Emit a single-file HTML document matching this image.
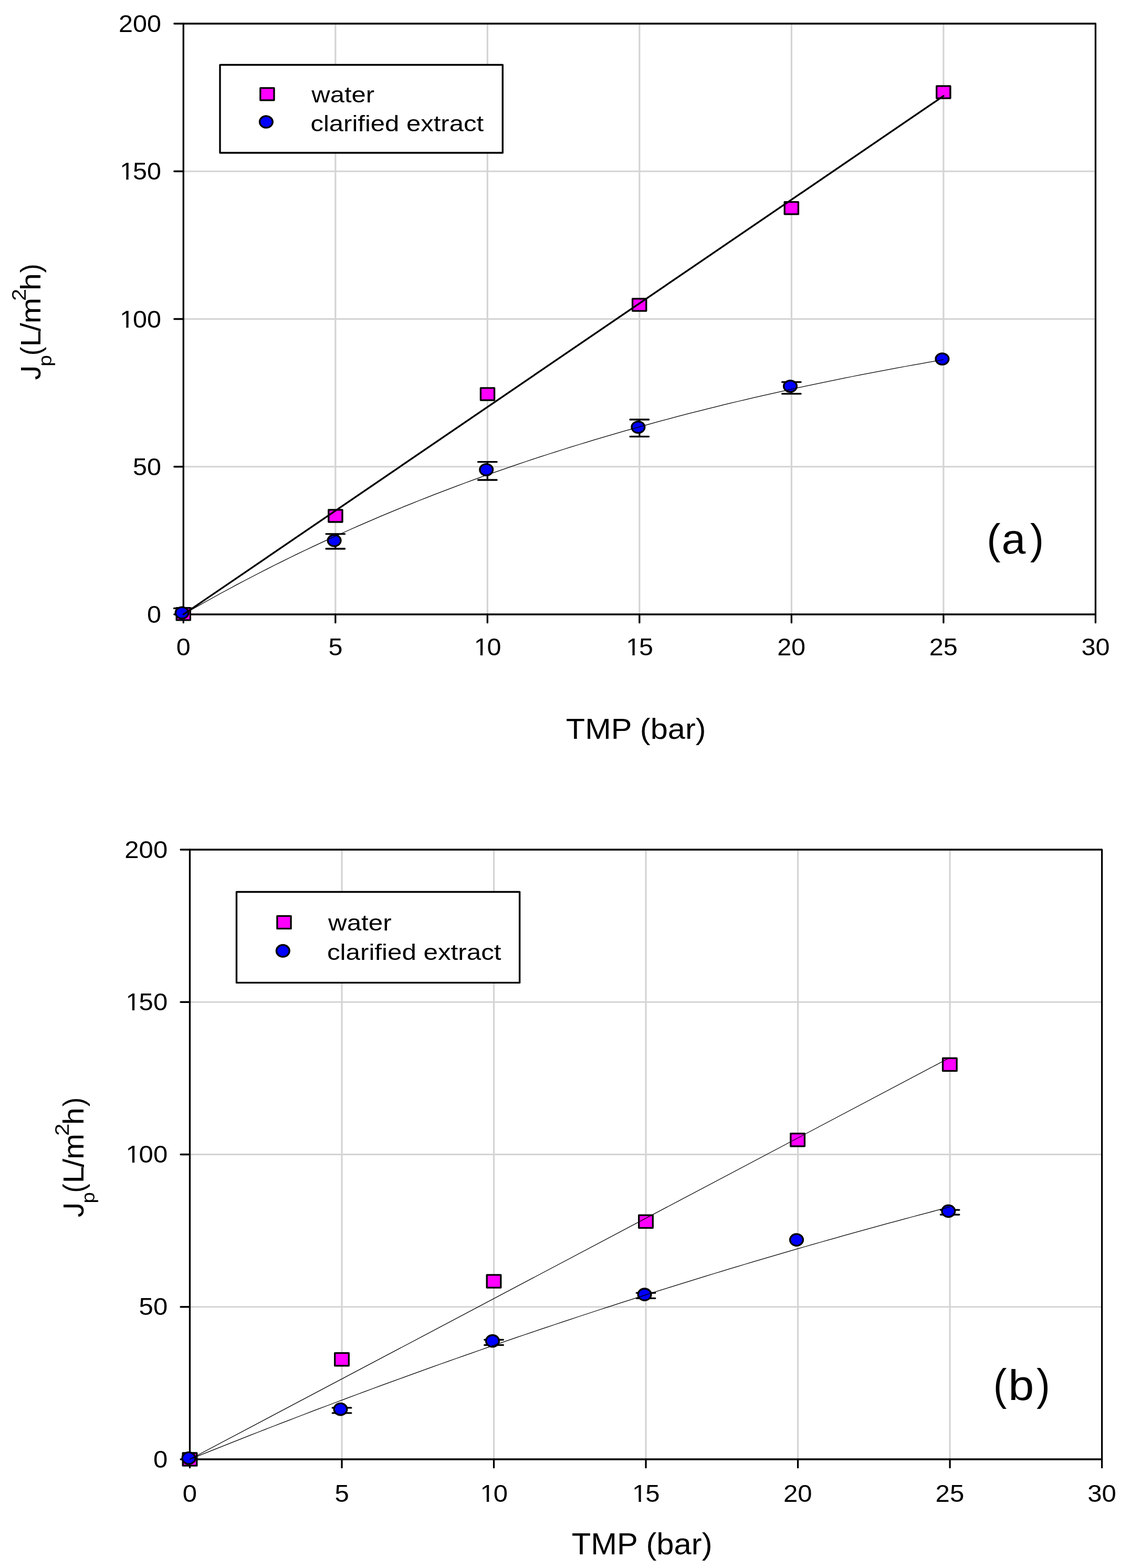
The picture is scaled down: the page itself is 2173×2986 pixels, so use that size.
<!DOCTYPE html>
<html><head><meta charset="utf-8"><title>Permeate flux vs TMP</title>
<style>
html,body{margin:0;padding:0;background:#fff;overflow:hidden;width:2173px;height:2986px;}
svg{display:block;}
text{font-family:"Liberation Sans", Arial, Helvetica, sans-serif;fill:#000;}
</style></head>
<body>
<svg width="2173" height="2986" viewBox="0 0 2173 2986">
<rect width="2173" height="2986" fill="#fff"/>
<line x1="638.82" y1="45.00" x2="638.82" y2="1170.00" stroke="#d4d4d4" stroke-width="3.2"/>
<line x1="928.33" y1="45.00" x2="928.33" y2="1170.00" stroke="#d4d4d4" stroke-width="3.2"/>
<line x1="1217.85" y1="45.00" x2="1217.85" y2="1170.00" stroke="#d4d4d4" stroke-width="3.2"/>
<line x1="1507.37" y1="45.00" x2="1507.37" y2="1170.00" stroke="#d4d4d4" stroke-width="3.2"/>
<line x1="1796.88" y1="45.00" x2="1796.88" y2="1170.00" stroke="#d4d4d4" stroke-width="3.2"/>
<line x1="349.30" y1="888.75" x2="2086.40" y2="888.75" stroke="#d4d4d4" stroke-width="3.2"/>
<line x1="349.30" y1="607.50" x2="2086.40" y2="607.50" stroke="#d4d4d4" stroke-width="3.2"/>
<line x1="349.30" y1="326.25" x2="2086.40" y2="326.25" stroke="#d4d4d4" stroke-width="3.2"/>
<rect x="349.30" y="45.00" width="1737.10" height="1125.00" fill="none" stroke="#000" stroke-width="3.3" stroke-linejoin="round"/>
<line x1="331.90" y1="1170.00" x2="349.30" y2="1170.00" stroke="#000" stroke-width="3.3" stroke-linecap="round"/>
<line x1="331.90" y1="888.75" x2="349.30" y2="888.75" stroke="#000" stroke-width="3.3" stroke-linecap="round"/>
<line x1="331.90" y1="607.50" x2="349.30" y2="607.50" stroke="#000" stroke-width="3.3" stroke-linecap="round"/>
<line x1="331.90" y1="326.25" x2="349.30" y2="326.25" stroke="#000" stroke-width="3.3" stroke-linecap="round"/>
<line x1="331.90" y1="45.00" x2="349.30" y2="45.00" stroke="#000" stroke-width="3.3" stroke-linecap="round"/>
<line x1="349.30" y1="1170.00" x2="349.30" y2="1185.70" stroke="#000" stroke-width="3.3" stroke-linecap="round"/>
<line x1="638.82" y1="1170.00" x2="638.82" y2="1185.70" stroke="#000" stroke-width="3.3" stroke-linecap="round"/>
<line x1="928.33" y1="1170.00" x2="928.33" y2="1185.70" stroke="#000" stroke-width="3.3" stroke-linecap="round"/>
<line x1="1217.85" y1="1170.00" x2="1217.85" y2="1185.70" stroke="#000" stroke-width="3.3" stroke-linecap="round"/>
<line x1="1507.37" y1="1170.00" x2="1507.37" y2="1185.70" stroke="#000" stroke-width="3.3" stroke-linecap="round"/>
<line x1="1796.88" y1="1170.00" x2="1796.88" y2="1185.70" stroke="#000" stroke-width="3.3" stroke-linecap="round"/>
<line x1="2086.40" y1="1170.00" x2="2086.40" y2="1185.70" stroke="#000" stroke-width="3.3" stroke-linecap="round"/>
<g transform="translate(279.92,1186.22) scale(1.0500,1)"><text font-size="46.20">0</text></g>
<g transform="translate(252.95,904.97) scale(1.0500,1)"><text font-size="46.20">50</text></g>
<g transform="translate(225.98,623.72) scale(1.0500,1)"><text font-size="46.20"><tspan dx="2.08">1</tspan><tspan dx="-2.08">0</tspan>0</text><rect x="4.36" y="-4.75" width="9.34" height="6.05" fill="#fff"/><rect x="17.78" y="-4.75" width="8.98" height="6.05" fill="#fff"/></g>
<g transform="translate(225.98,342.47) scale(1.0500,1)"><text font-size="46.20"><tspan dx="2.08">1</tspan><tspan dx="-2.08">5</tspan>0</text><rect x="4.36" y="-4.75" width="9.34" height="6.05" fill="#fff"/><rect x="17.78" y="-4.75" width="8.98" height="6.05" fill="#fff"/></g>
<g transform="translate(225.98,61.22) scale(1.0500,1)"><text font-size="46.20">200</text></g>
<g transform="translate(335.81,1248.20) scale(1.0500,1)"><text font-size="46.20">0</text></g>
<g transform="translate(625.38,1248.20) scale(1.0500,1)"><text font-size="46.20">5</text></g>
<g transform="translate(900.46,1248.20) scale(1.0500,1)"><text font-size="46.20"><tspan dx="2.08">1</tspan><tspan dx="-2.08">0</tspan></text><rect x="4.36" y="-4.75" width="9.34" height="6.05" fill="#fff"/><rect x="17.78" y="-4.75" width="8.98" height="6.05" fill="#fff"/></g>
<g transform="translate(1190.05,1248.20) scale(1.0500,1)"><text font-size="46.20"><tspan dx="2.08">1</tspan><tspan dx="-2.08">5</tspan></text><rect x="4.36" y="-4.75" width="9.34" height="6.05" fill="#fff"/><rect x="17.78" y="-4.75" width="8.98" height="6.05" fill="#fff"/></g>
<g transform="translate(1480.13,1248.20) scale(1.0500,1)"><text font-size="46.20">20</text></g>
<g transform="translate(1769.72,1248.20) scale(1.0500,1)"><text font-size="46.20">25</text></g>
<g transform="translate(2059.45,1248.20) scale(1.0500,1)"><text font-size="46.20">30</text></g>
<g transform="translate(1077.79,1407.00) scale(1.0726,1)"><text font-size="55.50">TMP (bar)</text></g>
<g transform="translate(77.00,722.70) rotate(-90) scale(1.0303,1)"><text x="-0.86" y="0" font-size="53.50">J</text><rect x="8.62" y="-38.11" width="8.34" height="6.68" fill="#fff"/></g>
<g transform="translate(97.70,695.20) rotate(-90) scale(1.1265,1)"><text x="-2.25" y="0" font-size="34.60">p</text></g>
<g transform="translate(77.00,674.00) rotate(-90) scale(0.9311,1)"><text x="-3.32" y="0" font-size="53.50">(</text></g>
<g transform="translate(77.00,655.60) rotate(-90) scale(1.0596,1)"><text x="-4.39" y="0" font-size="53.50">L</text></g>
<g transform="translate(77.00,631.00) rotate(-90) scale(1.0758,1)"><text x="0.00" y="0" font-size="53.50">/</text></g>
<g transform="translate(77.00,612.00) rotate(-90) scale(1.1012,1)"><text x="-3.53" y="0" font-size="53.50">m</text></g>
<g transform="translate(49.00,571.00) rotate(-90) scale(1.1202,1)"><text x="-1.85" y="0" font-size="37.00">2</text></g>
<g transform="translate(77.00,548.90) rotate(-90) scale(1.1029,1)"><text x="-3.69" y="0" font-size="53.50">h</text></g>
<g transform="translate(77.00,519.10) rotate(-90) scale(0.9734,1)"><text x="-0.32" y="0" font-size="53.50">)</text></g>
<rect x="419.00" y="123.45" width="538.30" height="167.55" fill="#fff" stroke="#000" stroke-width="3.4" stroke-linejoin="round"/>
<rect x="495.80" y="167.65" width="26.20" height="23.20" fill="#ff00ff" stroke="#000" stroke-width="3.3" stroke-linejoin="round"/>
<ellipse cx="506.90" cy="232.10" rx="12.40" ry="11.10" fill="#0000ff" stroke="#000" stroke-width="3.3"/>
<g transform="translate(591.44,249.77) scale(1.1367,1)"><text font-size="43.13">clarified extract</text></g>
<text transform="translate(593.35,194.90) scale(1.1367,1)" font-size="43.13">water</text>
<path d="M349.30,1158.40L349.30,1170.00M331.50,1158.40L367.10,1158.40" stroke="#000" stroke-width="3.3" stroke-linecap="round" fill="none"/>
<path d="M638.82,1016.80L638.82,1045.00M621.02,1016.80L656.62,1016.80M621.02,1045.00L656.62,1045.00" stroke="#000" stroke-width="3.3" stroke-linecap="round" fill="none"/>
<path d="M928.33,879.70L928.33,914.00M910.53,879.70L946.13,879.70M910.53,914.00L946.13,914.00" stroke="#000" stroke-width="3.3" stroke-linecap="round" fill="none"/>
<path d="M1217.85,799.00L1217.85,831.30M1200.05,799.00L1235.65,799.00M1200.05,831.30L1235.65,831.30" stroke="#000" stroke-width="3.3" stroke-linecap="round" fill="none"/>
<path d="M1507.37,727.60L1507.37,749.80M1489.57,727.60L1525.17,727.60M1489.57,749.80L1525.17,749.80" stroke="#000" stroke-width="3.3" stroke-linecap="round" fill="none"/>
<rect x="336.20" y="1157.70" width="26.20" height="23.20" fill="#ff00ff" stroke="#000" stroke-width="3.3" stroke-linejoin="round"/>
<rect x="625.80" y="970.80" width="26.20" height="23.20" fill="#ff00ff" stroke="#000" stroke-width="3.3" stroke-linejoin="round"/>
<rect x="915.40" y="738.90" width="26.20" height="23.20" fill="#ff00ff" stroke="#000" stroke-width="3.3" stroke-linejoin="round"/>
<rect x="1204.60" y="568.90" width="26.20" height="23.20" fill="#ff00ff" stroke="#000" stroke-width="3.3" stroke-linejoin="round"/>
<rect x="1494.20" y="384.70" width="26.20" height="23.20" fill="#ff00ff" stroke="#000" stroke-width="3.3" stroke-linejoin="round"/>
<rect x="1783.70" y="163.90" width="26.20" height="23.20" fill="#ff00ff" stroke="#000" stroke-width="3.3" stroke-linejoin="round"/>
<ellipse cx="346.60" cy="1167.00" rx="12.40" ry="10.80" fill="#0000ff" stroke="#000" stroke-width="3.3"/>
<ellipse cx="636.60" cy="1029.30" rx="12.40" ry="10.80" fill="#0000ff" stroke="#000" stroke-width="3.3"/>
<ellipse cx="926.20" cy="894.50" rx="12.40" ry="10.80" fill="#0000ff" stroke="#000" stroke-width="3.3"/>
<ellipse cx="1215.40" cy="813.50" rx="12.40" ry="10.80" fill="#0000ff" stroke="#000" stroke-width="3.3"/>
<ellipse cx="1505.00" cy="735.50" rx="12.40" ry="10.80" fill="#0000ff" stroke="#000" stroke-width="3.3"/>
<ellipse cx="1794.40" cy="683.60" rx="12.40" ry="10.80" fill="#0000ff" stroke="#000" stroke-width="3.3"/>
<path d="M349.30,1170.00L1797.00,182.70" stroke="#000" stroke-width="3.3" fill="none" stroke-linecap="round" stroke-linejoin="round"/>
<path d="M349.30,1170.00L363.78,1161.66L378.25,1153.41L392.73,1145.27L407.20,1137.23L421.68,1129.28L436.16,1121.43L450.63,1113.67L465.11,1106.01L479.58,1098.44L494.06,1090.97L508.53,1083.58L523.01,1076.28L537.49,1069.08L551.96,1061.95L566.44,1054.92L580.91,1047.97L595.39,1041.11L609.87,1034.32L624.34,1027.63L638.82,1021.01L653.29,1014.47L667.77,1008.01L682.24,1001.63L696.72,995.33L711.20,989.10L725.67,982.95L740.15,976.87L754.62,970.87L769.10,964.94L783.58,959.08L798.05,953.29L812.53,947.58L827.00,941.93L841.48,936.35L855.95,930.84L870.43,925.39L884.91,920.02L899.38,914.70L913.86,909.45L928.33,904.27L942.81,899.14L957.29,894.08L971.76,889.08L986.24,884.15L1000.71,879.27L1015.19,874.45L1029.66,869.69L1044.14,864.98L1058.62,860.34L1073.09,855.75L1087.57,851.21L1102.04,846.73L1116.52,842.31L1131.00,837.94L1145.47,833.62L1159.95,829.35L1174.42,825.14L1188.90,820.97L1203.37,816.86L1217.85,812.80L1232.33,808.78L1246.80,804.82L1261.28,800.90L1275.75,797.03L1290.23,793.21L1304.71,789.43L1319.18,785.70L1333.66,782.02L1348.13,778.38L1362.61,774.78L1377.08,771.23L1391.56,767.72L1406.04,764.25L1420.51,760.83L1434.99,757.44L1449.46,754.10L1463.94,750.80L1478.42,747.54L1492.89,744.31L1507.37,741.13L1521.84,737.98L1536.32,734.88L1550.79,731.81L1565.27,728.78L1579.75,725.78L1594.22,722.82L1608.70,719.90L1623.17,717.01L1637.65,714.16L1652.12,711.34L1666.60,708.56L1681.08,705.81L1695.55,703.09L1710.03,700.41L1724.50,697.76L1738.98,695.14L1753.46,692.55L1767.93,689.99L1782.41,687.47L1796.88,684.98" stroke="#000" stroke-width="1.25" fill="none" stroke-linecap="round" stroke-linejoin="round"/>
<g transform="translate(1879.21,1054.15) scale(0.9866,1)"><text font-size="79.94">(</text></g>
<g transform="translate(1907.44,1054.21) scale(1.0439,1)"><text font-size="78.83">a</text></g>
<g transform="translate(1961.83,1054.15) scale(0.9866,1)"><text font-size="79.94">)</text></g>
<line x1="651.02" y1="1618.00" x2="651.02" y2="2779.00" stroke="#d4d4d4" stroke-width="3.2"/>
<line x1="940.53" y1="1618.00" x2="940.53" y2="2779.00" stroke="#d4d4d4" stroke-width="3.2"/>
<line x1="1230.05" y1="1618.00" x2="1230.05" y2="2779.00" stroke="#d4d4d4" stroke-width="3.2"/>
<line x1="1519.57" y1="1618.00" x2="1519.57" y2="2779.00" stroke="#d4d4d4" stroke-width="3.2"/>
<line x1="1809.08" y1="1618.00" x2="1809.08" y2="2779.00" stroke="#d4d4d4" stroke-width="3.2"/>
<line x1="361.50" y1="2488.75" x2="2098.60" y2="2488.75" stroke="#d4d4d4" stroke-width="3.2"/>
<line x1="361.50" y1="2198.50" x2="2098.60" y2="2198.50" stroke="#d4d4d4" stroke-width="3.2"/>
<line x1="361.50" y1="1908.25" x2="2098.60" y2="1908.25" stroke="#d4d4d4" stroke-width="3.2"/>
<rect x="361.50" y="1618.00" width="1737.10" height="1161.00" fill="none" stroke="#000" stroke-width="3.3" stroke-linejoin="round"/>
<line x1="344.10" y1="2779.00" x2="361.50" y2="2779.00" stroke="#000" stroke-width="3.3" stroke-linecap="round"/>
<line x1="344.10" y1="2488.75" x2="361.50" y2="2488.75" stroke="#000" stroke-width="3.3" stroke-linecap="round"/>
<line x1="344.10" y1="2198.50" x2="361.50" y2="2198.50" stroke="#000" stroke-width="3.3" stroke-linecap="round"/>
<line x1="344.10" y1="1908.25" x2="361.50" y2="1908.25" stroke="#000" stroke-width="3.3" stroke-linecap="round"/>
<line x1="344.10" y1="1618.00" x2="361.50" y2="1618.00" stroke="#000" stroke-width="3.3" stroke-linecap="round"/>
<line x1="361.50" y1="2779.00" x2="361.50" y2="2794.70" stroke="#000" stroke-width="3.3" stroke-linecap="round"/>
<line x1="651.02" y1="2779.00" x2="651.02" y2="2794.70" stroke="#000" stroke-width="3.3" stroke-linecap="round"/>
<line x1="940.53" y1="2779.00" x2="940.53" y2="2794.70" stroke="#000" stroke-width="3.3" stroke-linecap="round"/>
<line x1="1230.05" y1="2779.00" x2="1230.05" y2="2794.70" stroke="#000" stroke-width="3.3" stroke-linecap="round"/>
<line x1="1519.57" y1="2779.00" x2="1519.57" y2="2794.70" stroke="#000" stroke-width="3.3" stroke-linecap="round"/>
<line x1="1809.08" y1="2779.00" x2="1809.08" y2="2794.70" stroke="#000" stroke-width="3.3" stroke-linecap="round"/>
<line x1="2098.60" y1="2779.00" x2="2098.60" y2="2794.70" stroke="#000" stroke-width="3.3" stroke-linecap="round"/>
<g transform="translate(291.91,2794.69) scale(1.0450,1)"><text font-size="47.00">0</text></g>
<g transform="translate(264.60,2504.44) scale(1.0450,1)"><text font-size="47.00">50</text></g>
<g transform="translate(237.29,2214.19) scale(1.0450,1)"><text font-size="47.00"><tspan dx="2.11">1</tspan><tspan dx="-2.11">0</tspan>0</text><rect x="4.45" y="-4.81" width="9.48" height="6.11" fill="#fff"/><rect x="18.09" y="-4.81" width="9.12" height="6.11" fill="#fff"/></g>
<g transform="translate(237.29,1923.94) scale(1.0450,1)"><text font-size="47.00"><tspan dx="2.11">1</tspan><tspan dx="-2.11">5</tspan>0</text><rect x="4.45" y="-4.81" width="9.48" height="6.11" fill="#fff"/><rect x="18.09" y="-4.81" width="9.12" height="6.11" fill="#fff"/></g>
<g transform="translate(237.29,1633.69) scale(1.0450,1)"><text font-size="47.00">200</text></g>
<g transform="translate(347.85,2860.30) scale(1.0450,1)"><text font-size="47.00">0</text></g>
<g transform="translate(637.41,2860.30) scale(1.0450,1)"><text font-size="47.00">5</text></g>
<g transform="translate(912.32,2860.30) scale(1.0450,1)"><text font-size="47.00"><tspan dx="2.11">1</tspan><tspan dx="-2.11">0</tspan></text><rect x="4.45" y="-4.81" width="9.48" height="6.11" fill="#fff"/><rect x="18.09" y="-4.81" width="9.12" height="6.11" fill="#fff"/></g>
<g transform="translate(1201.91,2860.30) scale(1.0450,1)"><text font-size="47.00"><tspan dx="2.11">1</tspan><tspan dx="-2.11">5</tspan></text><rect x="4.45" y="-4.81" width="9.48" height="6.11" fill="#fff"/><rect x="18.09" y="-4.81" width="9.12" height="6.11" fill="#fff"/></g>
<g transform="translate(1491.99,2860.30) scale(1.0450,1)"><text font-size="47.00">20</text></g>
<g transform="translate(1781.58,2860.30) scale(1.0450,1)"><text font-size="47.00">25</text></g>
<g transform="translate(2071.32,2860.30) scale(1.0450,1)"><text font-size="47.00">30</text></g>
<g transform="translate(1088.79,2959.90) scale(1.0465,1)"><text font-size="57.10">TMP (bar)</text></g>
<g transform="translate(158.80,2317.30) rotate(-90) scale(1.0377,1)"><text x="-0.88" y="0" font-size="55.00">J</text><rect x="8.90" y="-39.14" width="8.53" height="6.79" fill="#fff"/></g>
<g transform="translate(179.95,2289.10) rotate(-90) scale(1.0884,1)"><text x="-2.30" y="0" font-size="35.40">p</text></g>
<g transform="translate(158.80,2268.20) rotate(-90) scale(0.9400,1)"><text x="-3.41" y="0" font-size="55.00">(</text></g>
<g transform="translate(158.80,2248.50) rotate(-90) scale(1.0719,1)"><text x="-4.51" y="0" font-size="55.00">L</text></g>
<g transform="translate(158.80,2223.00) rotate(-90) scale(1.0661,1)"><text x="0.00" y="0" font-size="55.00">/</text></g>
<g transform="translate(158.80,2203.90) rotate(-90) scale(1.0686,1)"><text x="-3.63" y="0" font-size="55.00">m</text></g>
<g transform="translate(130.90,2160.90) rotate(-90) scale(1.1199,1)"><text x="-1.87" y="0" font-size="37.40">2</text></g>
<g transform="translate(158.80,2137.90) rotate(-90) scale(1.0728,1)"><text x="-3.79" y="0" font-size="55.00">h</text></g>
<g transform="translate(158.80,2107.00) rotate(-90) scale(0.9605,1)"><text x="-0.33" y="0" font-size="55.00">)</text></g>
<rect x="450.45" y="1698.45" width="539.20" height="172.95" fill="#fff" stroke="#000" stroke-width="3.4" stroke-linejoin="round"/>
<rect x="527.90" y="1744.40" width="26.20" height="24.00" fill="#ff00ff" stroke="#000" stroke-width="3.3" stroke-linejoin="round"/>
<ellipse cx="538.80" cy="1810.80" rx="12.40" ry="11.40" fill="#0000ff" stroke="#000" stroke-width="3.3"/>
<g transform="translate(622.93,1828.27) scale(1.1473,1)"><text font-size="42.99">clarified extract</text></g>
<text transform="translate(625.05,1772.30) scale(1.1473,1)" font-size="42.99">water</text>
<path d="M651.02,2680.90L651.02,2690.90M633.22,2680.90L668.82,2680.90M633.22,2690.90L668.82,2690.90" stroke="#000" stroke-width="3.3" stroke-linecap="round" fill="none"/>
<path d="M940.53,2551.30L940.53,2561.40M922.73,2551.30L958.33,2551.30M922.73,2561.40L958.33,2561.40" stroke="#000" stroke-width="3.3" stroke-linecap="round" fill="none"/>
<path d="M1230.05,2462.10L1230.05,2472.30M1212.25,2462.10L1247.85,2462.10M1212.25,2472.30L1247.85,2472.30" stroke="#000" stroke-width="3.3" stroke-linecap="round" fill="none"/>
<path d="M1809.08,2304.10L1809.08,2313.10M1791.28,2304.10L1826.88,2304.10M1791.28,2313.10L1826.88,2313.10" stroke="#000" stroke-width="3.3" stroke-linecap="round" fill="none"/>
<rect x="348.20" y="2767.00" width="26.60" height="24.20" fill="#ff00ff" stroke="#000" stroke-width="3.3" stroke-linejoin="round"/>
<rect x="637.70" y="2576.60" width="26.60" height="24.20" fill="#ff00ff" stroke="#000" stroke-width="3.3" stroke-linejoin="round"/>
<rect x="927.20" y="2427.90" width="26.60" height="24.20" fill="#ff00ff" stroke="#000" stroke-width="3.3" stroke-linejoin="round"/>
<rect x="1216.70" y="2314.10" width="26.60" height="24.20" fill="#ff00ff" stroke="#000" stroke-width="3.3" stroke-linejoin="round"/>
<rect x="1505.80" y="2158.60" width="26.60" height="24.20" fill="#ff00ff" stroke="#000" stroke-width="3.3" stroke-linejoin="round"/>
<rect x="1795.50" y="2015.20" width="26.60" height="24.20" fill="#ff00ff" stroke="#000" stroke-width="3.3" stroke-linejoin="round"/>
<ellipse cx="359.50" cy="2776.90" rx="12.40" ry="11.20" fill="#0000ff" stroke="#000" stroke-width="3.3"/>
<ellipse cx="648.50" cy="2683.60" rx="12.40" ry="11.20" fill="#0000ff" stroke="#000" stroke-width="3.3"/>
<ellipse cx="938.00" cy="2553.70" rx="12.40" ry="11.20" fill="#0000ff" stroke="#000" stroke-width="3.3"/>
<ellipse cx="1227.60" cy="2465.20" rx="12.40" ry="11.20" fill="#0000ff" stroke="#000" stroke-width="3.3"/>
<ellipse cx="1517.00" cy="2361.10" rx="12.40" ry="11.20" fill="#0000ff" stroke="#000" stroke-width="3.3"/>
<ellipse cx="1806.30" cy="2306.40" rx="12.40" ry="11.20" fill="#0000ff" stroke="#000" stroke-width="3.3"/>
<path d="M361.50,2779.00L1808.70,2014.20" stroke="#000" stroke-width="1.25" fill="none" stroke-linecap="round" stroke-linejoin="round"/>
<path d="M361.50,2779.00L375.98,2773.17L390.45,2767.36L404.93,2761.57L419.40,2755.80L433.88,2750.05L448.36,2744.32L462.83,2738.62L477.31,2732.93L491.78,2727.27L506.26,2721.62L520.73,2716.00L535.21,2710.40L549.69,2704.81L564.16,2699.25L578.64,2693.71L593.11,2688.19L607.59,2682.69L622.07,2677.21L636.54,2671.75L651.02,2666.31L665.49,2660.90L679.97,2655.50L694.44,2650.13L708.92,2644.77L723.40,2639.44L737.87,2634.12L752.35,2628.83L766.82,2623.56L781.30,2618.31L795.77,2613.08L810.25,2607.87L824.73,2602.68L839.20,2597.51L853.68,2592.36L868.15,2587.24L882.63,2582.13L897.11,2577.04L911.58,2571.98L926.06,2566.93L940.53,2561.91L955.01,2556.91L969.49,2551.93L983.96,2546.96L998.44,2542.02L1012.91,2537.10L1027.39,2532.20L1041.86,2527.33L1056.34,2522.47L1070.82,2517.63L1085.29,2512.81L1099.77,2508.02L1114.24,2503.24L1128.72,2498.49L1143.19,2493.75L1157.67,2489.04L1172.15,2484.35L1186.62,2479.68L1201.10,2475.03L1215.57,2470.40L1230.05,2465.79L1244.53,2461.20L1259.00,2456.63L1273.48,2452.08L1287.95,2447.56L1302.43,2443.05L1316.90,2438.56L1331.38,2434.10L1345.86,2429.66L1360.33,2425.23L1374.81,2420.83L1389.28,2416.45L1403.76,2412.09L1418.24,2407.75L1432.71,2403.43L1447.19,2399.13L1461.66,2394.85L1476.14,2390.59L1490.62,2386.36L1505.09,2382.14L1519.57,2377.94L1534.04,2373.77L1548.52,2369.62L1562.99,2365.48L1577.47,2361.37L1591.95,2357.28L1606.42,2353.21L1620.90,2349.16L1635.37,2345.13L1649.85,2341.12L1664.33,2337.13L1678.80,2333.16L1693.28,2329.21L1707.75,2325.29L1722.23,2321.38L1736.70,2317.50L1751.18,2313.63L1765.66,2309.79L1780.13,2305.97L1794.61,2302.16L1809.08,2298.38" stroke="#000" stroke-width="1.25" fill="none" stroke-linecap="round" stroke-linejoin="round"/>
<g transform="translate(1891.63,2666.10) scale(0.9318,1)"><text font-size="82.62">(</text></g>
<g transform="translate(1920.17,2665.99) scale(1.0858,1)"><text font-size="81.22">b</text></g>
<g transform="translate(1974.04,2666.10) scale(0.9363,1)"><text font-size="82.62">)</text></g>
</svg>
</body></html>
